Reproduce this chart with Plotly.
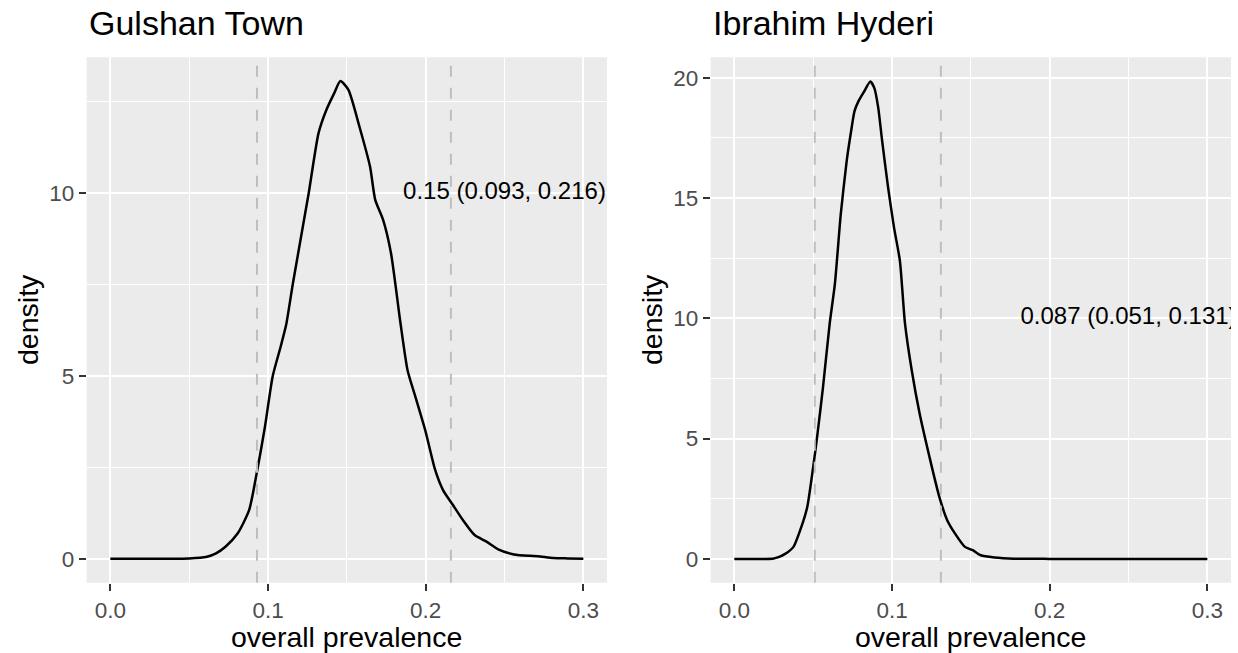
import plotly.graph_objects as go

# ---------------- data ----------------
gulshan_x = [0.0, 0.02, 0.04, 0.05, 0.0607, 0.067, 0.073, 0.0807, 0.088, 0.0932, 0.098, 0.103,
             0.108, 0.1115, 0.1158, 0.1258, 0.132, 0.137, 0.142, 0.1459, 0.151, 0.158, 0.1647,
             0.168, 0.173, 0.178, 0.1840, 0.1885, 0.1935, 0.1997, 0.206, 0.211, 0.2173, 0.2236,
             0.231, 0.2386, 0.246, 0.256, 0.266, 0.271, 0.281, 0.29, 0.3]
gulshan_d = [0.0, 0.0, 0.0, 0.01, 0.05, 0.15, 0.33, 0.69, 1.33, 2.43, 3.6, 5.0,
             5.8, 6.4, 7.54, 10.0, 11.64, 12.28, 12.74, 13.07, 12.83, 11.82, 10.73,
             9.82, 9.27, 8.36, 6.45, 5.16, 4.43, 3.52, 2.43, 1.88, 1.47, 1.06,
             0.65, 0.47, 0.26, 0.12, 0.08, 0.07, 0.02, 0.01, 0.0]

hyderi_x = [0.0, 0.01, 0.02, 0.025, 0.0275, 0.0325, 0.0375, 0.0425, 0.04625, 0.05, 0.0525,
            0.05625, 0.0605, 0.06375, 0.0675, 0.07125, 0.07375, 0.07625, 0.07875, 0.0825,
            0.08625, 0.08875, 0.09125, 0.09375, 0.0975, 0.10125, 0.105, 0.1082, 0.1125,
            0.1175, 0.12375, 0.13, 0.135, 0.14, 0.14625, 0.15125, 0.15625, 0.165, 0.1775,
            0.2, 0.25, 0.3]
hyderi_d = [0.0, 0.0, 0.0, 0.02, 0.06, 0.22, 0.5, 1.33, 2.16, 3.82, 5.07,
            7.15, 9.8, 11.42, 14.33, 16.54, 17.65, 18.62, 19.03, 19.45,
            19.84, 19.58, 18.76, 17.37, 15.44, 13.78, 12.39, 9.8, 7.84,
            6.04, 4.24, 2.58, 1.61, 1.05, 0.5, 0.36, 0.15, 0.06, 0.01,
            0.0, 0.0, 0.0]

panel_titles = ["Gulshan Town", "Ibrahim Hyderi"]
ci_lines = [[0.093, 0.216], [0.051, 0.131]]
labels = ["0.15 (0.093, 0.216)", "0.087 (0.051, 0.131)"]
label_x = [0.25, 0.25]
label_y = [10, 10]
x_ticks = [0.0, 0.1, 0.2, 0.3]
x_ticktext = ["0.0", "0.1", "0.2", "0.3"]
y_ticks = [[0, 5, 10], [0, 5, 10, 15, 20]]
y_minor = [[2.5, 7.5, 12.5], [2.5, 7.5, 12.5, 17.5]]
x_minor = [0.05, 0.15, 0.25]
y_ranges = [[-0.654, 13.72], [-0.99, 20.85]]

# ---------------- layout constants ----------------
W, H = 1238, 653
FONT = "Liberation Sans, Arial, Helvetica, sans-serif"
x_domains = [[86.7 / W, 607.0 / W], [710.7 / W, 1231.0 / W]]
y_domain = [(H - 582.7) / H, (H - 57.3) / H]
ytitle_x = [28, 652]

fig = go.Figure()
curves = [(gulshan_x, gulshan_d), (hyderi_x, hyderi_d)]
for i, (xs, ds) in enumerate(curves):
    xa = "x" if i == 0 else "x2"
    ya = "y" if i == 0 else "y2"
    fig.add_trace(go.Scatter(x=xs, y=ds, mode="lines", xaxis=xa, yaxis=ya,
                             line=dict(color="black", width=2.5, shape="spline", smoothing=0.6),
                             showlegend=False, hoverinfo="skip"))
    # label text, clipped to the panel like ggplot
    fig.add_trace(go.Scatter(x=[label_x[i]], y=[label_y[i]], mode="text", text=[labels[i]],
                             textposition="middle center", cliponaxis=True,
                             textfont=dict(family=FONT, size=24, color="black"),
                             xaxis=xa, yaxis=ya, showlegend=False, hoverinfo="skip"))

shapes = []
annotations = []
for i in range(2):
    xr = "x" if i == 0 else "x2"
    yr = "y" if i == 0 else "y2"
    for v in ci_lines[i]:
        shapes.append(dict(type="line", xref=xr, yref=yr + " domain", x0=v, x1=v, y0=0, y1=1,
                           line=dict(color="#BEBEBE", width=2, dash="11px,11px"), layer="above"))
    # panel title
    annotations.append(dict(x=x_domains[i][0], y=(H - 23) / H, xref="paper", yref="paper",
                            text=panel_titles[i], showarrow=False, xanchor="left", yanchor="middle",
                            font=dict(family=FONT, size=34, color="black")))
    # x axis title
    annotations.append(dict(x=sum(x_domains[i]) / 2, y=(H - 637) / H, xref="paper", yref="paper",
                            text="overall prevalence", showarrow=False, xanchor="center",
                            yanchor="middle", font=dict(family=FONT, size=28.5, color="black")))
    # y axis title
    annotations.append(dict(x=ytitle_x[i] / W, y=(H - 320) / H, xref="paper",
                            yref="paper", text="density", showarrow=False, textangle=-90,
                            xanchor="center", yanchor="middle",
                            font=dict(family=FONT, size=28.5, color="black")))

axis_common = dict(showgrid=True, gridcolor="white", gridwidth=2.2, zeroline=False,
                   showline=False, ticks="outside", ticklen=7, tickwidth=2.2,
                   tickcolor="#333333", automargin=False,
                   tickfont=dict(family=FONT, size=22.5, color="#4D4D4D"))

layout = dict(width=W, height=H, margin=dict(l=0, r=0, t=0, b=0),
              paper_bgcolor="white", plot_bgcolor="#EBEBEB", showlegend=False,
              shapes=shapes, annotations=annotations, template="none")
for i in range(2):
    sx = "" if i == 0 else "2"
    layout["xaxis" + sx] = dict(domain=x_domains[i], range=[-0.015, 0.315],
                                tickvals=x_ticks, ticktext=x_ticktext,
                                anchor="y" + sx,
                                minor=dict(tickvals=x_minor, showgrid=True, gridcolor="white",
                                           gridwidth=1.1, ticks=""),
                                **axis_common)
    layout["yaxis" + sx] = dict(domain=y_domain, range=y_ranges[i], tickvals=y_ticks[i],
                                anchor="x" + sx,
                                minor=dict(tickvals=y_minor[i], showgrid=True, gridcolor="white",
                                           gridwidth=1.1, ticks=""),
                                **axis_common)

fig.update_layout(**layout)
fig.write_html("out.html", config={"displayModeBar": False},
               post_script="document.body.style.margin='0px';")
